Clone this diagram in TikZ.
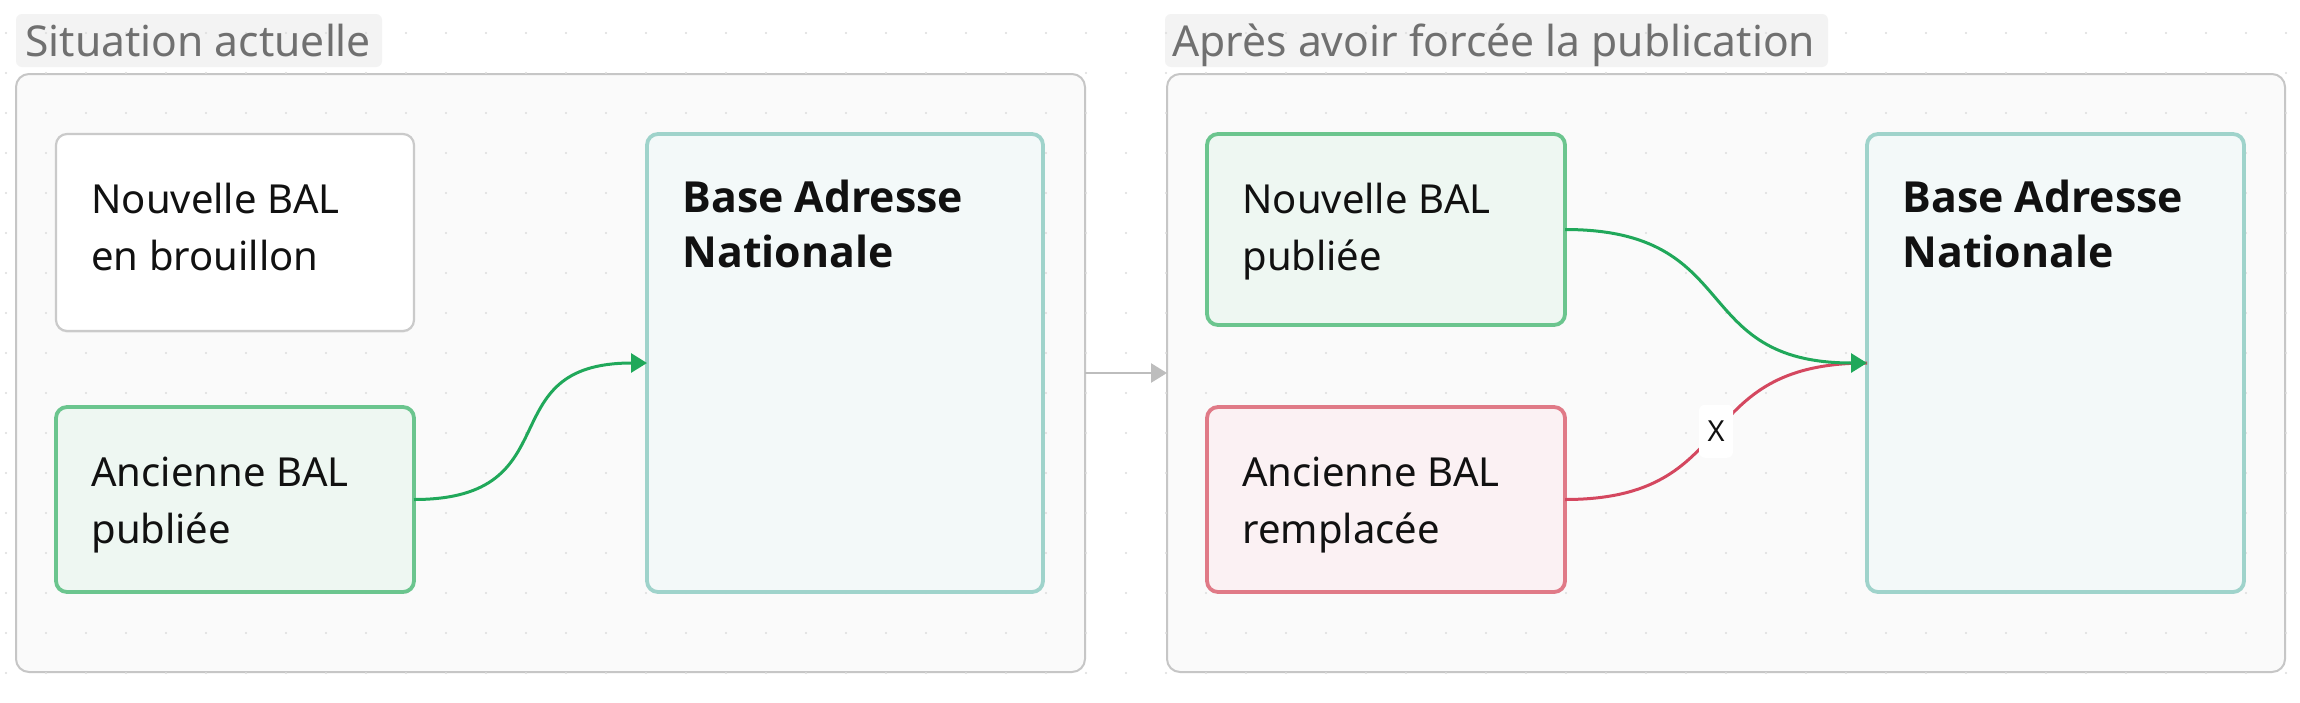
\documentclass[tikz,border=0pt]{standalone}
\usepackage{fontspec}
\setmainfont{Noto Sans}
\IfFontExistsTF{Open Sans Bold}{\newfontfamily\banfont{Open Sans Bold}\def\bansize{21.4}}{%
  \IfFontExistsTF{Noto Sans Bold}{\newfontfamily\banfont{Noto Sans Bold}\def\bansize{21.4}}{%
    \newfontfamily\banfont{Noto Sans}[FakeBold=3.5,LetterSpace=1]\def\bansize{22}}}
\usetikzlibrary{arrows.meta,shadows}
\definecolor{dotc}{HTML}{DCDCDC}
\definecolor{contfill}{HTML}{FAFAFA}
\definecolor{contline}{HTML}{C6C6C6}
\definecolor{titlefill}{HTML}{F3F3F3}
\definecolor{titletext}{HTML}{707070}
\definecolor{draftline}{HTML}{CACACA}
\definecolor{greenline}{HTML}{6BC58E}
\definecolor{greenfill}{HTML}{EEF7F2}
\definecolor{redline}{HTML}{E07A87}
\definecolor{redfill}{HTML}{FBF1F3}
\definecolor{banline}{HTML}{9FD3CB}
\definecolor{banfill}{HTML}{F3F9F9}
\definecolor{edgegreen}{HTML}{20A85A}
\definecolor{edgered}{HTML}{D4475F}
\definecolor{edgegray}{HTML}{BDBDBD}
\definecolor{textc}{HTML}{111111}
\begin{document}
\begin{tikzpicture}[x=0.5pt,y=-0.5pt,
  container/.style={draw=contline,fill=contfill,line width=1pt,rounded corners=6.5pt,
    minimum height=299pt,inner sep=0pt,outer sep=0pt},
  titlebg/.style={fill=titlefill,rounded corners=3pt,minimum height=26.5pt,inner sep=0pt},
  titletxt/.style={text=titletext,font=\fontsize{21.3}{28.5}\selectfont,inner sep=0pt,anchor=base west},
  boxbase/.style={rounded corners=5.5pt,line width=1.9pt,inner sep=0pt,outer sep=0pt,
    minimum width=179pt,drop shadow={opacity=0.12,shadow xshift=0pt,shadow yshift=-0.8pt}},
  draftbox/.style={boxbase,draw=draftline,fill=white,line width=1.1pt},
  greenbox/.style={boxbase,draw=greenline,fill=greenfill},
  redbox/.style={boxbase,draw=redline,fill=redfill},
  banbox/.style={boxbase,draw=banline,fill=banfill,minimum height=229pt},
  txt/.style={text=textc,font=\fontsize{20}{28.5}\selectfont,inner sep=0pt,anchor=base west},
  bold/.style={txt,font=\banfont\fontsize{\bansize}{28.5}\selectfont},
  greenedge/.style={draw=edgegreen,line width=1.5pt,-{Triangle[length=8pt,width=9.5pt]}},
  rededge/.style={draw=edgered,line width=1.5pt},
  grayedge/.style={draw=edgegray,line width=1.25pt,-{Triangle[length=8pt,width=9.5pt]}},
  xlab/.style={fill=white,rounded corners=3pt,minimum width=17pt,minimum height=26.5pt,
    inner sep=0pt,text=textc,font=\fontsize{14.5}{17}\selectfont}
]
\useasboundingbox (0,0) rectangle (2300,702);
\fill[white] (0,0) rectangle (2300,702);

% titles
\node[titlebg,minimum width=183pt] (t1bg) at (199,40.5) {};
\node[titlebg,minimum width=331.5pt] (t2bg) at (1496.5,40.5) {};

% containers
\node[container,minimum width=534.5pt] (c1) at (550.5,373) {};
\node[container,minimum width=559pt] (c2) at (1726,373) {};

% dot grid
\foreach \i in {0,...,57}{
  \foreach \j in {0,...,16}{
    \fill[dotc] (6+40*\i,33+40*\j) circle (0.6pt);
  }
}

\node[titletxt] (t1) at (25,56) {Situation actuelle};
\node[titletxt] (t2) at (1172,56) {Après avoir forcée la publication};

% left part
\node[draftbox,minimum height=98.5pt] (n1) at (235,232.5) {};
\node[greenbox,minimum height=92.5pt] (n2) at (235,499.5) {};
\node[banbox,minimum width=198pt] (b1) at (845,363) {};

\node[txt] (n1a) at ([shift={(35,79)}]n1.north west) {Nouvelle BAL};
\node[txt] (n1b) at ([shift={(35,136)}]n1.north west) {en brouillon};
\node[txt] (n2a) at ([shift={(35,79)}]n2.north west) {Ancienne BAL};
\node[txt] (n2b) at ([shift={(35,136)}]n2.north west) {publiée};
\node[bold] (b1a) at ([shift={(35,78)}]b1.north west) {Base Adresse};
\node[bold] (b1b) at ([shift={(35,133)}]b1.north west) {Nationale};

% right part
\node[greenbox,minimum height=95.5pt] (n3) at (1386,229.5) {};
\node[redbox,minimum height=92.5pt] (n4) at (1386,499.5) {};
\node[banbox,minimum width=188.5pt] (b2) at (2055.5,363) {};

\node[txt] (n3a) at ([shift={(35,79)}]n3.north west) {Nouvelle BAL};
\node[txt] (n3b) at ([shift={(35,136)}]n3.north west) {publiée};
\node[txt] (n4a) at ([shift={(35,79)}]n4.north west) {Ancienne BAL};
\node[txt] (n4b) at ([shift={(35,136)}]n4.north west) {remplacée};
\node[bold] (b2a) at ([shift={(35,78)}]b2.north west) {Base Adresse};
\node[bold] (b2b) at ([shift={(35,133)}]b2.north west) {Nationale};

% connectors
\draw[greenedge] (n2.east) to[out=0,in=180,out distance=80pt,in distance=80pt] (b1.west);
\draw[rededge] (n4.east) to[out=0,in=180,out distance=90pt,in distance=90pt] node[xlab,pos=0.5] (xl) {X} (b2.west);
\draw[greenedge] (n3.east) to[out=0,in=180,out distance=90pt,in distance=90pt] (b2.west);
\draw[grayedge] (c1.east) -- (c2.west);
\end{tikzpicture}
\end{document}
